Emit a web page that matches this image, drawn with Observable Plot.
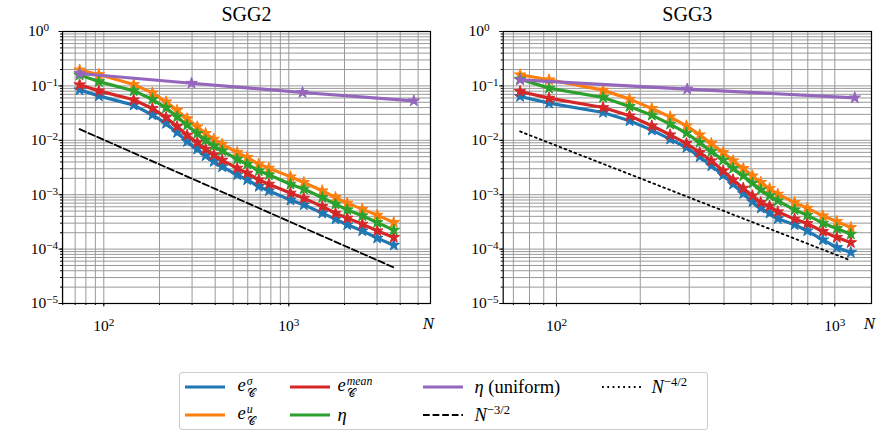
<!DOCTYPE html>
<html>
<head>
<meta charset="utf-8">
<script src="https://cdn.jsdelivr.net/npm/d3@7"></script>
<script src="https://cdn.jsdelivr.net/npm/@observablehq/plot@0.6"></script>
<style>
  body { margin: 0; background: #fff; font-family: "Liberation Serif", "Times New Roman", Tinos, "DejaVu Serif", "Noto Serif", FreeSerif, serif; }
  #wrap { position: relative; width: 880px; height: 432px; overflow: hidden; }
  #left, #right { position: absolute; top: 0; }
  #left { left: 0; }
  #right { left: 440px; }
  #legend { position: absolute; left: 178.5px; top: 372px; width: 529px; height: 58px;
            border: 1px solid #cccccc; border-radius: 3px; box-sizing: border-box; background: #fff;
            font-size: 18.5px; color: #000; }
  .lab { position: absolute; transform: translateY(-50%); white-space: nowrap; line-height: 1; }
  .hnd { position: absolute; transform: translateY(-50%); }
  .st { display: inline-flex; flex-direction: column; font-size: 0.64em; line-height: 1.05;
        vertical-align: middle; margin-left: 1px; }
  .cal { font-family: "DejaVu Sans", "Noto Sans", serif; font-style: normal; }
  sup { font-size: 0.68em; vertical-align: 0.55em; line-height: 0; }
</style>
</head>
<body>
<div id="wrap">
  <div id="left"></div>
  <div id="right"></div>
  <div id="legend"></div>
</div>
<script>
// ---------- data ----------
const sgg2N = [74, 94, 145, 183, 217, 249, 282, 320, 355, 393, 436, 526, 596, 688, 780, 1021, 1205, 1516, 1788, 2069, 2494, 3005, 3694];
const sgg2ESigma = [0.0845, 0.0655, 0.0443, 0.0292, 0.0204, 0.0139, 0.0095, 0.00688, 0.00519, 0.00408, 0.00326, 0.00232, 0.00188, 0.00142, 0.00118, 0.000795, 0.000652, 0.000458, 0.000356, 0.00028, 0.000217, 0.000159, 0.000118];
const sgg2EU = [0.196, 0.162, 0.106, 0.0745, 0.051, 0.0355, 0.0250, 0.0177, 0.01335, 0.01051, 0.0085, 0.00597, 0.00484, 0.00365, 0.00308, 0.00213, 0.00168, 0.00118, 0.00089, 0.0007, 0.000543, 0.000421, 0.000309];
const sgg2EMean = [0.105, 0.081, 0.0555, 0.0385, 0.0263, 0.0180, 0.01245, 0.00912, 0.00688, 0.00541, 0.00432, 0.00308, 0.00249, 0.00188, 0.00156, 0.00107, 0.000865, 0.000608, 0.000458, 0.000371, 0.000288, 0.000217, 0.000164];
const sgg2Eta = [0.158, 0.120, 0.0813, 0.0565, 0.0395, 0.0270, 0.0190, 0.01335, 0.01007, 0.00792, 0.00641, 0.00451, 0.00365, 0.00275, 0.00232, 0.00156, 0.00127, 0.00089, 0.000671, 0.000528, 0.000409, 0.000309, 0.000223];
const sgg2UniformN = [74, 298, 1186, 4742];
const sgg2Uniform = [0.169, 0.112, 0.0757, 0.0532];
const sgg2RefN = [74, 3690];
const sgg2Ref = [0.016, 0.000046];

const sgg3N = [74, 94, 147, 183, 220, 256, 293, 327, 360, 397, 431, 469, 506, 542, 583, 624, 717, 796, 906, 1017, 1142];
const sgg3ESigma = [0.0639, 0.0482, 0.0325, 0.0228, 0.01538, 0.01051, 0.00738, 0.00497, 0.0034, 0.00229, 0.00156, 0.00105, 0.00074, 0.000566, 0.000458, 0.000362, 0.00028, 0.000217, 0.000148, 0.000107, 0.0000867];
const sgg3EU = [0.160, 0.1295, 0.0836, 0.0571, 0.0385, 0.027, 0.01847, 0.01262, 0.00875, 0.00598, 0.0042, 0.00304, 0.002225, 0.00168, 0.0013, 0.001024, 0.00072, 0.000566, 0.000409, 0.000322, 0.00025];
const sgg3EMean = [0.079, 0.0596, 0.0401, 0.0282, 0.01847, 0.01262, 0.00875, 0.00598, 0.0042, 0.00275, 0.00188, 0.00132, 0.000955, 0.00072, 0.000616, 0.000485, 0.000356, 0.000296, 0.000211, 0.000164, 0.000132];
const sgg3Eta = [0.1331, 0.091, 0.0613, 0.0419, 0.029, 0.01983, 0.01354, 0.00913, 0.00623, 0.00432, 0.00304, 0.002225, 0.00163, 0.00123, 0.000955, 0.000773, 0.000528, 0.000421, 0.0003, 0.000239, 0.000188];
const sgg3UniformN = [74, 295, 1180];
const sgg3Uniform = [0.129, 0.0873, 0.0604];
const sgg3RefN = [74, 1132];
const sgg3Ref = [0.01454, 0.0000627];

const yTickValues = [1e-5, 1e-4, 1e-3, 1e-2, 1e-1, 1];
const yTickLabels = ["10^{\u22125}", "10^{\u22124}", "10^{\u22123}", "10^{\u22122}", "10^{\u22121}", "10^{0}"];
const xTickValues = [100, 1000];
const xTickLabels = ["10^{2}", "10^{3}"];

const seriesNames = ["sigma", "u", "mean", "eta"];
const colors = { sigma: "#1f77b4", u: "#ff7f0e", mean: "#d62728", eta: "#2ca02c", uniform: "#9467bd" };

// ---------- helpers ----------
const FONT = '"Liberation Serif", "Times New Roman", Tinos, "DejaVu Serif", "Noto Serif", FreeSerif, serif';
const gridColor = "#999999";
const yDomain = [1e-5, 1];
const yLabelSet = new Set(yTickLabels);

function superscriptify(svg) {
  d3.select(svg).selectAll("text").each(function () {
    const t = this.textContent;
    const m = /^(.*)\^\{(.*)\}$/.exec(t);
    if (!m) return;
    const sel = d3.select(this);
    sel.text(null);
    const base = sel.append("tspan").text(m[1]);
    // positive exponents on the y axis end a little further left, as in the reference
    if (yLabelSet.has(t) && !m[2].includes("\u2212")) base.attr("dx", -9);
    sel.append("tspan").attr("dy", "-0.45em").attr("font-size", "0.72em").text(m[2]);
  });
}

function panel(cfg) {
  const { N, values, uniN, uni, refN, ref, refDash, xDomain, title, marginLeft, marginRight } = cfg;
  const xMinor = d3.scaleLog().domain(xDomain).ticks();
  const yMinor = d3.scaleLog().domain(yDomain).ticks();
  const yMap = new Map(yTickValues.map((v, i) => [v, yTickLabels[i]]));
  const xMap = new Map(xTickValues.map((v, i) => [v, xTickLabels[i]]));

  const marks = [
    Plot.ruleX(xMinor, { x: d => d, stroke: gridColor, strokeWidth: 1 }),
    Plot.ruleY(yMinor, { y: d => d, stroke: gridColor, strokeWidth: 1 })
  ];
  for (const name of seriesNames) {
    const data = N.map((n, i) => ({ n, v: values[name][i] }));
    marks.push(Plot.line(data, { x: "n", y: "v", stroke: colors[name], strokeWidth: 3.2 }));
    marks.push(Plot.dot(data, { x: "n", y: "v", symbol: "star", r: 3.6, fill: colors[name], stroke: colors[name], strokeWidth: 1 }));
  }
  const uData = uniN.map((n, i) => ({ n, v: uni[i] }));
  marks.push(Plot.line(uData, { x: "n", y: "v", stroke: colors.uniform, strokeWidth: 3.2 }));
  marks.push(Plot.dot(uData, { x: "n", y: "v", symbol: "star", r: 3.6, fill: colors.uniform, stroke: colors.uniform, strokeWidth: 1 }));
  const rData = refN.map((n, i) => ({ n, v: ref[i] }));
  marks.push(Plot.line(rData, { x: "n", y: "v", stroke: "black", strokeWidth: 1.8, strokeDasharray: refDash }));

  marks.push(Plot.frame({ stroke: "black", strokeWidth: 1.2 }));
  marks.push(Plot.axisX({ ticks: xMinor, tickSize: 2, tickFormat: () => "", label: null }));
  marks.push(Plot.axisX({ ticks: xTickValues, tickSize: 3.5, tickPadding: 13, tickFormat: d => xMap.get(d), label: null, fontSize: 15.5, fontFamily: FONT }));
  marks.push(Plot.axisY({ ticks: yMinor, tickSize: 2, tickFormat: () => "", label: null }));
  marks.push(Plot.axisY({ ticks: yTickValues, tickSize: 3.5, tickPadding: 1, tickFormat: d => yMap.get(d), label: null, fontSize: 15.5, fontFamily: FONT }));
  marks.push(Plot.text([title], { text: d => d, frameAnchor: "top", lineAnchor: "bottom", dy: -11, fontSize: 20, fontFamily: FONT }));
  marks.push(Plot.text(["N"], { text: d => d, frameAnchor: "bottom-right", lineAnchor: "bottom", textAnchor: "middle", dx: -2, dy: 25, fontSize: 17, fontStyle: "italic", fontFamily: FONT }));

  const svg = Plot.plot({
    width: 440, height: 340,
    marginLeft, marginRight, marginTop: 31, marginBottom: 37,
    x: { type: "log", domain: xDomain },
    y: { type: "log", domain: yDomain },
    style: { fontFamily: FONT, fontSize: "15.5px", background: "transparent", overflow: "visible", color: "black" },
    marks
  });
  superscriptify(svg);
  return svg;
}

document.getElementById("left").appendChild(panel({
  N: sgg2N,
  values: { sigma: sgg2ESigma, u: sgg2EU, mean: sgg2EMean, eta: sgg2Eta },
  uniN: sgg2UniformN, uni: sgg2Uniform,
  refN: sgg2RefN, ref: sgg2Ref, refDash: "6.7,2.9",
  xDomain: [59.8, 5834], title: "SGG2", marginLeft: 62, marginRight: 10
}));
document.getElementById("right").appendChild(panel({
  N: sgg3N,
  values: { sigma: sgg3ESigma, u: sgg3EU, mean: sgg3EMean, eta: sgg3Eta },
  uniN: sgg3UniformN, uni: sgg3Uniform,
  refN: sgg3RefN, ref: sgg3Ref, refDash: "1.8,3.5",
  xDomain: [64.35, 1355], title: "SGG3", marginLeft: 62.7, marginRight: 9
}));

// ---------- legend ----------
const eC = sup => `<i>e</i><span class="st"><i>${sup}</i><span class="cal">\u{1D49E}</span></span>`;
const legendItems = [
  { color: colors.sigma, dash: null, label: eC("\u03C3"), col: 0, row: 0 },
  { color: colors.u, dash: null, label: eC("u"), col: 0, row: 1 },
  { color: colors.mean, dash: null, label: eC("mean"), col: 1, row: 0 },
  { color: colors.eta, dash: null, label: "<i>\u03B7</i>", col: 1, row: 1 },
  { color: colors.uniform, dash: null, label: "<i>\u03B7</i> (uniform)", col: 2, row: 0 },
  { color: "black", dash: "6.7,2.9", label: "<i>N</i><sup>\u22123/2</sup>", col: 2, row: 1 },
  { color: "black", dash: "1.8,3.5", label: "<i>N</i><sup>\u22124/2</sup>", col: 3, row: 0 }
];
const colHandleX = [5, 110, 243, 422];
const colTextX = [58, 158, 295, 472];
const rowY = [14, 42];
const legend = document.getElementById("legend");
for (const it of legendItems) {
  const isRef = it.dash !== null;
  const h = document.createElement("div");
  h.className = "hnd";
  h.style.left = colHandleX[it.col] + "px";
  h.style.top = rowY[it.row] + "px";
  h.innerHTML = `<svg width="40" height="8" style="display:block"><line x1="0" x2="40" y1="4" y2="4" stroke="${it.color}" stroke-width="${isRef ? 1.8 : 3.2}" ${isRef ? `stroke-dasharray="${it.dash}"` : ""}/></svg>`;
  legend.appendChild(h);
  const t = document.createElement("div");
  t.className = "lab";
  t.style.left = colTextX[it.col] + "px";
  t.style.top = rowY[it.row] + "px";
  t.innerHTML = it.label;
  legend.appendChild(t);
}
</script>
</body>
</html>
